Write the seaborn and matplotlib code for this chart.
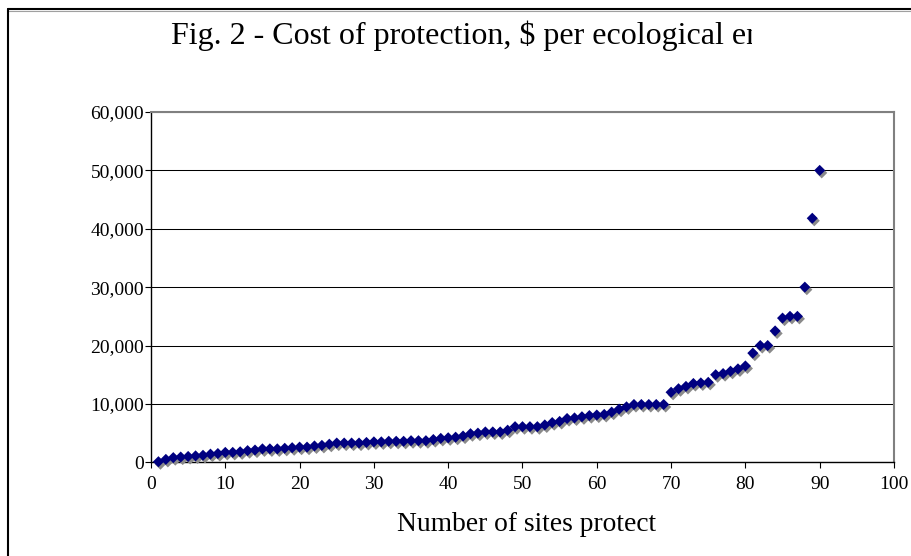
import matplotlib
matplotlib.use("Agg")
import matplotlib.pyplot as plt
import matplotlib.transforms as mtransforms
from matplotlib.lines import Line2D
import seaborn as sns
import pandas as pd

# ---- data ----
sites = list(range(1, 91))
cost = [100, 500, 800, 900, 1000, 1100, 1200, 1400, 1500, 1700,
        1700, 1800, 2000, 2100, 2300, 2300, 2300, 2400, 2500, 2600,
        2600, 2800, 2900, 3100, 3300, 3300, 3300, 3300, 3400, 3500,
        3500, 3600, 3600, 3600, 3700, 3700, 3700, 3900, 4100, 4200,
        4300, 4500, 4900, 5000, 5200, 5200, 5200, 5500, 6100, 6100,
        6100, 6100, 6400, 6800, 7000, 7500, 7600, 7800, 8000, 8100,
        8200, 8600, 9100, 9500, 9900, 9900, 9900, 9900, 9900, 12000,
        12600, 13000, 13500, 13600, 13700, 15000, 15200, 15600, 16000, 16500,
        18700, 20000, 20000, 22500, 24700, 25000, 25000, 30000, 41800, 50000]
x_ticks = [0, 10, 20, 30, 40, 50, 60, 70, 80, 90, 100]
y_ticks = [0, 10000, 20000, 30000, 40000, 50000, 60000]
y_tick_labels = ["0", "10,000", "20,000", "30,000", "40,000", "50,000", "60,000"]
title_text = "Fig. 2 - Cost of protection, $ per ecological endpoint"
xlabel_text = "Number of sites protected"

df = pd.DataFrame({"sites": sites, "cost": cost})

sns.set_style("white")
plt.rcParams["font.family"] = ["Liberation Serif", "DejaVu Serif"]

W, H = 912, 556
fig = plt.figure(figsize=(W / 100, H / 100), dpi=100)
fig.patch.set_facecolor("white")

L, R, T, B = 151, 894, 112, 462.3
ax = fig.add_axes([L / W, 1 - B / H, (R - L) / W, (B - T) / H])

shadow = mtransforms.offset_copy(ax.transData, fig=fig, x=2.0, y=-2.5, units="dots")
sns.scatterplot(data=df, x="sites", y="cost", marker="D", s=32, color="#8a8a8a",
                edgecolor="none", linewidth=0, transform=shadow, ax=ax, clip_on=False, zorder=3)
sns.scatterplot(data=df, x="sites", y="cost", marker="D", s=32, color="#000080",
                edgecolor="none", linewidth=0, ax=ax, clip_on=False, zorder=4)

ax.set_xlim(0, 100)
ax.set_ylim(0, 60000)
ax.set_xticks(x_ticks)
ax.set_xticklabels([str(v) for v in x_ticks])
ax.set_yticks(y_ticks)
ax.set_yticklabels(y_tick_labels)
ax.set_xlabel("")
ax.set_ylabel("")

ax.yaxis.grid(True, color="black", linewidth=0.75)
ax.xaxis.grid(False)
ax.set_axisbelow(True)

for side in ["top", "right"]:
    ax.spines[side].set_visible(True)
    ax.spines[side].set_color("#808080")
    ax.spines[side].set_linewidth(1.5)
for side in ["left", "bottom"]:
    ax.spines[side].set_visible(True)
    ax.spines[side].set_color("black")
    ax.spines[side].set_linewidth(1.0)

ax.tick_params(axis="both", which="both", direction="out", length=4, width=0.8,
               color="black", labelsize=14, labelcolor="black")
ax.tick_params(axis="x", pad=6, bottom=True)
ax.tick_params(axis="y", pad=1, left=True)

# title (clipped like the original)
t = fig.text(171 / W, 1 - 44 / H, title_text, ha="left", va="baseline",
             fontsize=23, color="black")
t.set_clip_box(mtransforms.Bbox.from_extents(0, 0, 752, H))
t.set_clip_on(True)

xl = fig.text(397 / W, 1 - 531 / H, xlabel_text, ha="left", va="baseline",
              fontsize=19.8, color="black")
xl.set_clip_box(mtransforms.Bbox.from_extents(0, 0, 656, H))
xl.set_clip_on(True)

# outer chart border
fig.add_artist(Line2D([8 / W, 1.0], [1 - 9 / H, 1 - 9 / H], transform=fig.transFigure,
                      color="black", linewidth=1.5))
fig.add_artist(Line2D([8 / W, 1.0], [1 - 10.8 / H, 1 - 10.8 / H], transform=fig.transFigure,
                      color="#a0a0a0", linewidth=0.8))
fig.add_artist(Line2D([8 / W, 8 / W], [0, 1 - 9 / H], transform=fig.transFigure,
                      color="black", linewidth=1.5))

fig.savefig("out.png", dpi=100)
